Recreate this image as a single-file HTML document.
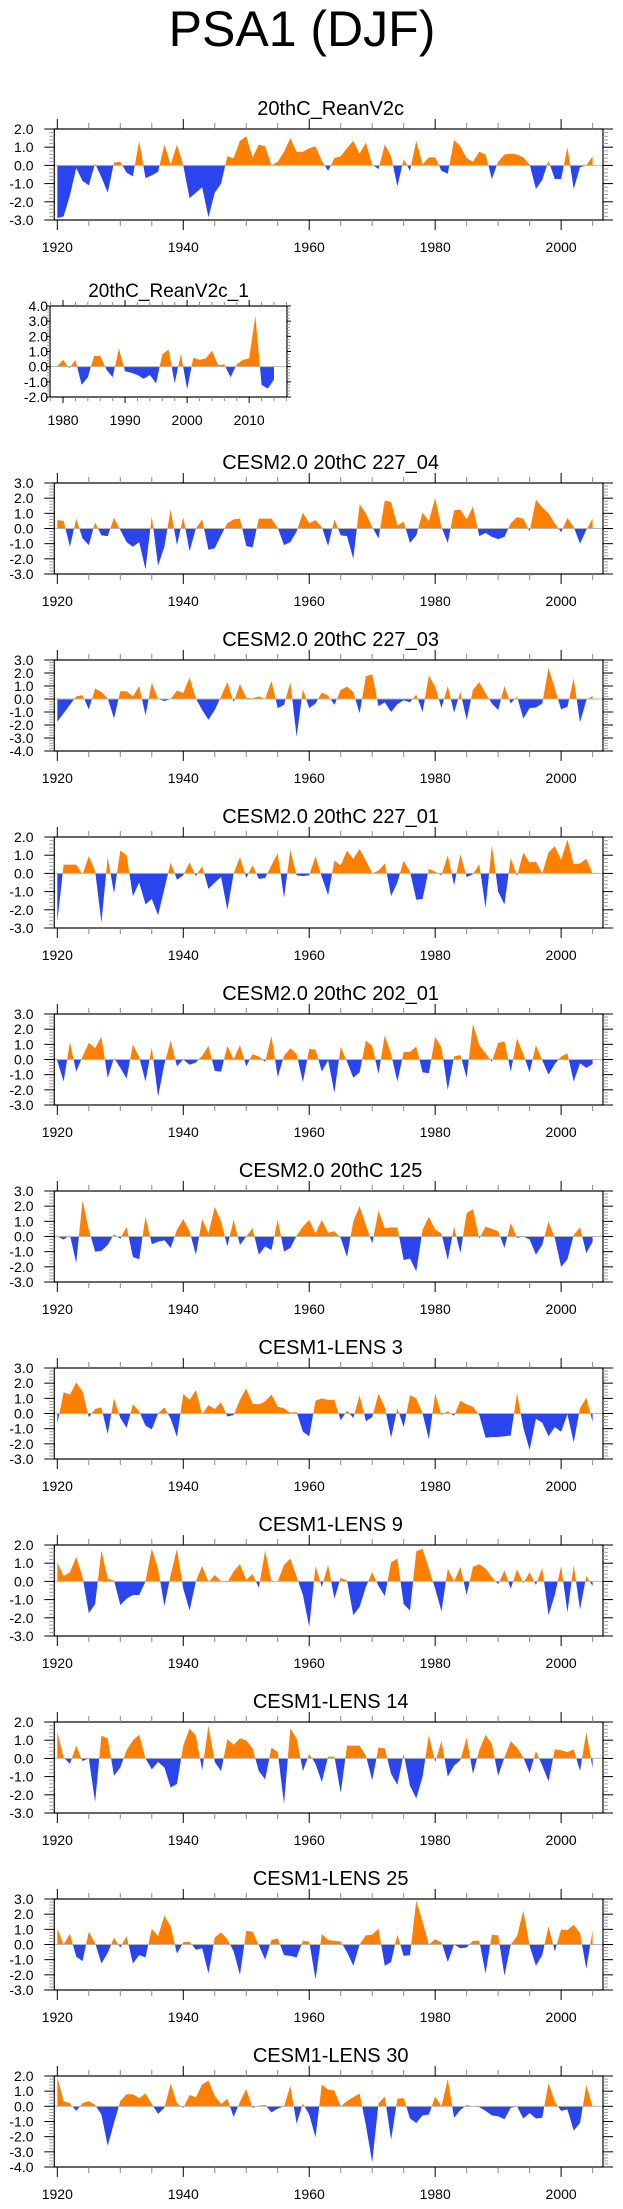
<!DOCTYPE html>
<html><head><meta charset="utf-8">
<style>
html,body{margin:0;padding:0;background:#fff;}
svg{display:block;font-family:"Liberation Sans",Arial,sans-serif;}
</style></head>
<body>
<svg id="fig" width="623" height="2209" viewBox="0 0 623 2209" xmlns="http://www.w3.org/2000/svg">
<rect width="623" height="2209" fill="#fff"/>
<text x="302" y="46" font-size="50" text-anchor="middle" fill="#000">PSA1 (DJF)</text>
</svg>
<script>
const panelTitles = ["20thC_ReanV2c","20thC_ReanV2c_1","CESM2.0 20thC 227_04","CESM2.0 20thC 227_03","CESM2.0 20thC 227_01","CESM2.0 20thC 202_01","CESM2.0 20thC 125","CESM1-LENS 3","CESM1-LENS 9","CESM1-LENS 14","CESM1-LENS 25","CESM1-LENS 30"];
const yMaxs = [2,4,3,3,2,3,3,3,2,2,3,2];
const yMins = [-3,-2,-3,-4,-3,-3,-3,-3,-3,-3,-3,-4];
const startYears = [1920,1979,1920,1920,1920,1920,1920,1920,1920,1920,1920,1920];
const xTickLabelsMain = [1920,1940,1960,1980,2000];
const xTickLabelsShort = [1980,1990,2000,2010];

const s_reanV2c = [-2.9,-2.8,-1.65,-0.15,-0.85,-1.1,0.1,-0.65,-1.5,0.15,
0.2,-0.4,-0.6,1.35,-0.7,-0.55,-0.35,1.15,0.05,1.15,
0,-1.8,-1.5,-1.2,-2.85,-1.5,-1.0,0.5,0.4,1.35,
1.6,0.45,1.15,1.05,0,0.2,0.75,1.5,0.75,0.75,
0.95,1.05,0.25,-0.3,0.4,0.5,0.95,1.35,0.65,1.25,
0.05,-0.2,1.15,0.5,-1.15,0.35,-0.3,1.35,0.05,0.45,
0.45,-0.3,-0.45,1.4,1.05,0.4,0.2,0.75,0.6,-0.75,
0.2,0.6,0.65,0.6,0.45,0.05,-1.3,-0.8,0.25,-0.75,
-0.75,1.0,-1.3,-0.1,0,0.5];
const s_reanV2c_1 = [0,0.45,-0.1,0.45,-1.2,-0.7,0.7,0.7,-0.2,-0.7,
1.2,-0.3,-0.4,-0.55,-0.8,-0.55,-1.1,0.8,1.15,-1.1,
0.85,-1.5,0.6,0.45,0.55,1.05,0.1,0.15,-0.7,0.15,
0.45,0.55,3.35,-1.2,-1.45,-0.85];
const s_227_04 = [0.55,0.5,-1.2,0.65,-0.65,-1.1,0.4,-0.45,-0.5,0.7,
-0.1,-0.9,-1.2,-0.9,-2.7,0.8,-2.45,-1.2,1.25,-1.1,
0.75,-1.5,0,0.6,-1.4,-1.3,-0.45,0.35,0.6,0.65,
-1.15,-1.25,0.65,0.65,0.65,0.05,-1.1,-0.9,-0.2,1.05,
0.35,0.55,0.1,-1.15,0.6,-0.45,-0.5,-2.0,1.6,1.0,
0.1,-0.65,1.85,1.75,0.2,0.45,-0.95,-0.45,1.05,0.5,
2.0,0.1,-0.95,1.2,1.25,0.6,1.45,-0.5,-0.3,-0.55,
-0.7,-0.55,0.35,0.75,0.65,-0.2,1.9,1.4,1.0,0.35,
-0.25,0.7,0.1,-1.0,-0.1,0.65];
const s_227_03 = [-1.75,-1.1,-0.45,0.2,0.3,-0.8,0.8,0.55,0.05,-1.5,
0.6,0.6,0.2,1.0,-1.25,1.25,0,-0.15,0,0.65,
0.45,1.65,0.05,-0.85,-1.6,-0.85,0.2,1.3,-0.25,1.15,
0.1,0.05,0.2,0,1.4,-0.7,-0.45,1.3,-2.9,0.75,
-0.7,-0.35,0.5,0.25,-0.45,0.7,0.95,0.55,-1.1,1.75,
1.9,-0.55,-0.25,-1.0,-0.4,-0.1,-0.25,0.35,-1.0,1.8,
0.95,-0.7,1.0,-1.05,0.55,-1.6,0.7,1.3,0.45,-0.35,
-0.85,1.0,-0.35,0.2,-1.5,-0.7,-0.65,-0.35,2.4,0.8,
-0.8,-0.6,1.6,-1.8,-0.1,0.25];
const s_227_01 = [-2.65,0.48,0.48,0.48,-0.05,0.95,0.15,-2.7,0.9,-1.1,
1.25,1.0,-1.25,-0.5,-1.7,-1.4,-2.3,-0.85,0.6,-0.35,
-0.1,0.6,-0.15,0.4,-0.85,-0.5,-0.2,-2.0,0,0.9,
-0.25,0.45,-0.3,-0.25,0.45,1.1,-1.35,1.3,-0.1,-0.15,
-0.1,0.95,-0.2,-1.2,0.7,0.45,1.25,0.8,1.35,0.7,
0,0.15,0.55,-1.25,-0.5,0.7,0.1,-1.45,-1.4,0.25,
0.1,-0.1,1.0,-0.65,1.05,-0.2,-0.05,0.5,-1.9,1.55,
-1.0,-1.7,0.85,-0.15,1.15,0.6,0.65,0,1.15,1.5,
0.75,1.85,0.5,0.55,0.8,0];
const s_202_01 = [-0.1,-1.45,1.15,-0.8,0.2,1.1,0.75,1.5,-1.2,0.1,
-0.55,-1.25,1.0,0.15,-1.45,0.8,-2.45,-0.3,1.25,-0.45,
0,-0.35,-0.2,0.25,0.9,-0.75,-0.8,0.9,0,0.95,
-0.45,0.35,0.2,-0.15,1.55,-1.15,0.25,0.75,0.35,-1.5,
0.7,0.65,-0.8,-0.05,-2.2,0.85,-0.15,-1.2,-0.85,1.25,
0.9,-0.95,1.6,0.35,-1.45,0.5,0.5,0.85,-0.85,-0.9,
1.5,0.8,-2.0,0.2,0.3,-1.2,2.35,0.95,0.4,-0.15,
1.1,1.2,-0.8,1.4,0.35,-0.85,0.95,-0.05,-1.0,-0.3,
0.2,0.4,-1.45,-0.25,-0.55,-0.3];
const s_125 = [0,-0.2,0.1,-1.75,2.4,0.45,-1.0,-0.95,-0.55,0.15,
-0.15,0.65,-1.35,-1.5,1.3,-0.5,-0.35,-0.25,-0.75,0.45,
1.15,0.35,-1.2,1.15,0.2,1.95,1.0,-0.65,1.1,-0.55,
0,0.55,-1.2,-0.65,-0.9,1.1,-1.0,-0.75,0.05,0.65,
1.1,0.2,1.1,0.25,0.35,-0.1,-1.35,1.0,2.0,0.75,
-0.45,1.7,0.55,0.6,0.6,-1.55,-1.45,-2.3,0.45,1.3,
0.45,0.2,-1.55,0.65,-1.1,1.55,1.8,-0.15,0.65,0.5,
0.35,-0.75,0.9,-0.1,0,-0.2,-1.2,-0.55,1.0,-0.1,
-2.0,-1.5,0.1,0.6,-1.1,-0.35];
const s_lens3 = [-0.65,1.4,1.25,2.05,1.45,-0.25,0.3,0.4,-1.35,1.0,
-0.3,-0.95,0.6,0.15,-0.8,-1.05,0,0.4,-0.35,-1.55,
1.3,0.9,1.55,-0.05,0.55,0.3,0.75,-0.2,-0.1,0.9,
1.65,0.65,0.6,0.8,1.25,0.45,0.35,0.05,0.1,-1.2,
-1.5,0.85,1.0,0.9,0.9,-0.45,0.2,-0.3,1.2,-0.5,
-0.25,1.3,0.4,-1.6,0.35,-0.9,1.2,1.0,0,-1.7,
1.3,-0.1,0.15,-0.15,0.85,0.6,0.45,-0.1,-1.6,-1.55,
-1.55,-1.5,-1.45,1.35,-0.95,-2.4,-0.35,-0.6,-1.5,-0.9,
-1.2,-0.05,-1.9,0.35,1.05,-0.55];
const s_lens9 = [1.05,0.3,0.5,1.35,0.25,-1.75,-1.25,1.7,0.15,0.05,
-1.3,-0.95,-0.75,-0.75,0,1.8,0.7,-1.35,0.35,1.8,
-0.4,-1.6,0,0.85,-0.05,0.35,0,-0.05,0.55,0.95,
0.1,0.4,-0.35,1.7,0,0,0.9,1.25,0.25,-0.75,
-2.5,0.85,-0.3,0.9,-0.95,0.2,0.05,-1.85,-1.4,-0.3,
0.5,-0.25,-0.8,1.05,1.25,-1.25,-1.6,1.65,1.8,0.7,
-0.4,-1.65,0.7,0,0.8,-0.75,0.8,0.95,0.7,0.25,
-0.15,0.6,-0.4,0.65,-0.1,0.5,-0.2,0.75,-1.85,-0.75,
0.85,-1.7,0.9,-1.55,0.3,-0.25];
const s_lens14 = [1.45,0.05,-0.3,0.7,-0.15,0,-2.4,1.25,1.1,-0.95,
-0.5,0.45,1.0,1.3,0,-0.6,-0.2,-0.5,-1.6,-1.4,
0.7,1.65,1.25,-0.65,1.8,-0.2,-0.7,1.05,0.75,1.1,
1.0,0.55,-0.7,-1.15,0.6,0.35,-2.5,1.65,1.1,-0.7,
0.25,-0.3,-1.3,0.1,0.1,-1.9,0.7,0.7,0.7,0.15,
-1.2,0.6,0.55,-0.85,-1.45,0.25,-1.5,-2.2,-1.0,1.3,
-0.2,0.95,-1.0,-0.4,-0.1,1.15,-0.85,0.45,1.3,0.8,
-0.95,0.05,0.95,0.6,0.05,-0.8,0.4,-0.4,-1.25,0.5,
0.45,0.35,0.5,-0.7,1.45,-0.55];
const s_lens25 = [1.05,0,0.7,-0.8,-1.1,0.85,0.1,-1.25,-0.55,0.45,
-0.2,0.55,-1.25,-0.7,-0.85,1.05,0.55,1.9,1.2,-0.6,
0.15,0.2,-0.35,-0.25,-1.9,0.45,0.8,0.35,-0.45,-2.0,
0.9,0.85,-0.05,-1.0,0.3,0.4,-0.7,-0.75,-0.85,0.25,
0.2,-2.3,0.7,0.3,0.25,0.2,-0.5,-1.4,0,0.6,
0.65,1.05,-1.4,-1.15,0.65,-0.75,-0.7,2.9,1.5,0,
0.35,0.15,-1.15,0,-0.25,-0.2,0.25,0.25,-1.9,0.65,
0.6,-2.05,0,0.55,2.25,-0.1,-1.4,-0.7,1.2,-0.45,
1.0,0.95,1.3,0.75,-1.6,0.95];
const s_lens30 = [1.95,0.35,0.2,-0.3,0.2,0.35,0.1,-0.55,-2.6,-1.1,
0.35,0.8,0.8,0.55,0.85,0.15,-0.5,-0.1,1.5,0.2,
-0.1,0.75,0.6,1.45,1.7,0.7,0.15,0.5,-0.7,0.3,
1.15,-0.1,0.05,0.1,-0.4,-0.15,0,1.35,-1.15,0.2,
-0.55,-2.05,1.45,1.1,1.05,0,0.35,0.6,0.85,-1.25,
-3.7,0.2,0.65,-2.2,0.5,0.55,-0.8,-1.1,-0.6,-0.55,
0.65,0,1.8,-0.75,-0.25,0.1,0,-0.05,-0.3,-0.6,
-0.65,-0.85,-0.1,0,-0.8,-0.45,-0.8,-0.75,1.55,0.3,
-0.3,-0.2,-1.6,-1.1,1.4,0];

const seriesList = [s_reanV2c,s_reanV2c_1,s_227_04,s_227_03,s_227_01,s_202_01,s_125,s_lens3,s_lens9,s_lens14,s_lens25,s_lens30];

const NS = "http://www.w3.org/2000/svg";
const svg = document.getElementById('fig');
function mk(tag, attrs, parent){
  const e = document.createElementNS(NS, tag);
  for (const k in attrs) e.setAttribute(k, attrs[k]);
  (parent||svg).appendChild(e);
  return e;
}
const ORANGE = "#ff8000", BLUE = "#2a45ee";

function drawPanel(i){
  const small = (i === 1);
  const top = 129 + 177*i, bottom = top + 91;
  let left, right, x0, x1;
  if (small){ left = 50; right = 287; x0 = 1977.9; x1 = 2016.1; }
  else { left = 54.3; right = 603; x0 = 1919.52; x1 = 2006.65; }
  const xs = yr => left + (yr - x0) / (x1 - x0) * (right - left);
  const ymax = yMaxs[i], ymin = yMins[i];
  const ys = v => top + (ymax - v) / (ymax - ymin) * (bottom - top);
  const data = seriesList[i];
  const g = mk('g', {});
  
  

  // title
  const t = mk('text', {x: (left+right)/2 + (small?0:2), y: small ? top-9 : top-14, 'font-size': small?19:20, 'text-anchor':'middle', fill:'#000'}, g);
  t.textContent = panelTitles[i];
  
  

  // build points with zero crossings
  const pts = [];
  for (let k = 0; k < data.length; k++){
    const yr = startYears[i] + k, v = data[k];
    if (k > 0){
      const pv = data[k-1];
      if ((pv > 0 && v < 0) || (pv < 0 && v > 0)){
        const f = pv / (pv - v);
        pts.push([yr - 1 + f, 0]);
      }
    }
    pts.push([yr, v]);
  }
  const firstX = xs(pts[0][0]), lastX = xs(pts[pts.length-1][0]);
  let dPos = 'M' + firstX + ',' + ys(0), dNeg = dPos;
  for (const p of pts){
    dPos += 'L' + xs(p[0]).toFixed(2) + ',' + ys(Math.max(p[1],0)).toFixed(2);
    dNeg += 'L' + xs(p[0]).toFixed(2) + ',' + ys(Math.min(p[1],0)).toFixed(2);
  }
  dPos += 'L' + lastX + ',' + ys(0) + 'Z';
  dNeg += 'L' + lastX + ',' + ys(0) + 'Z';
  const pos = mk('path', {d: dPos, fill: ORANGE, stroke:'none'}, g);
  
  
  const neg = mk('path', {d: dNeg, fill: BLUE, stroke:'none'}, g);
  
  

  // zero line
  const zl = mk('line', {x1:left, x2:right, y1:ys(0), y2:ys(0), stroke:'#b4b4b4', 'stroke-width':1}, g);
  
  

  // frame
  const fr = mk('rect', {x:left, y:top, width:right-left, height:bottom-top, fill:'none', stroke:'#000', 'stroke-width':1.2}, g);
  
  

  // x ticks
  const majStep = small ? 10 : 20, minStep = small ? 2 : 5;
  const majL = small ? 6 : 10, minL = small ? 4 : 6;
  const tickG = mk('g', {stroke:'#000', 'stroke-width':1}, g);
  
  
  for (let yr = Math.ceil(x0/minStep)*minStep; yr <= x1; yr += minStep){
    const X = xs(yr), isMaj = (yr % majStep === 0);
    const L = isMaj ? majL : minL;
    mk('line', {x1:X, x2:X, y1:top, y2:top-L, stroke: isMaj?'#000':'#888'}, tickG);
    mk('line', {x1:X, x2:X, y1:bottom, y2:bottom+L, stroke: isMaj?'#000':'#888'}, tickG);
  }
  const labels = small ? xTickLabelsShort : xTickLabelsMain;
  for (const yr of labels){
    const tl = mk('text', {x: xs(yr), y: small ? 425 - 0 + 0 : bottom + 32, 'font-size':14, 'text-anchor':'middle', fill:'#000'}, g);
    tl.textContent = String(yr);
    
    
  }

  // y ticks
  const ytg = mk('g', {'stroke-width':1}, g);
  
  
  const yMajL = small ? 4 : 10, yMinL = small ? 3 : 5;
  for (let k = Math.round(ymin*5); k <= Math.round(ymax*5); k++){
    const v = k/5, Y = ys(v), isMaj = (k % 5 === 0);
    const L = isMaj ? yMajL : yMinL;
    const col = isMaj ? '#000' : '#999';
    mk('line', {x1:left, x2:left-L, y1:Y, y2:Y, stroke:col}, ytg);
    mk('line', {x1:right, x2:right+L, y1:Y, y2:Y, stroke:col}, ytg);
  }
  for (let v = ymin; v <= ymax; v++){
    const yl = mk('text', {x: small ? left-2 : 33.5, y: ys(v)+5, 'font-size':14, 'text-anchor':'end', fill:'#000'}, g);
    yl.textContent = v.toFixed(1);
    
    
  }
}
for (let i = 0; i < seriesList.length; i++) drawPanel(i);
</script>
</body></html>
